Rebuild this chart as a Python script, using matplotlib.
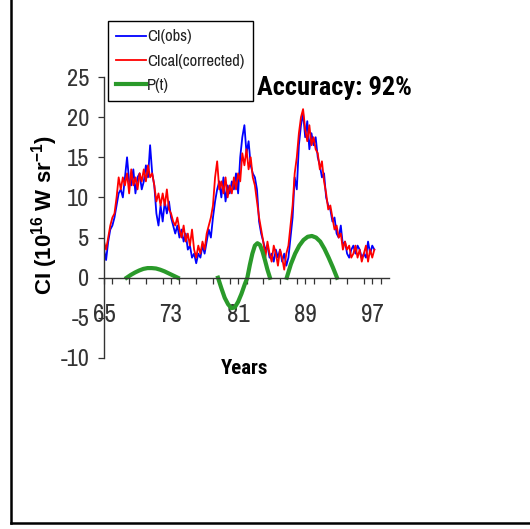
import numpy as np
import matplotlib
matplotlib.use("Agg")
import matplotlib.pyplot as plt
from matplotlib.lines import Line2D
from matplotlib.ticker import MultipleLocator, FixedLocator

plt.rcParams['axes.unicode_minus'] = False
plt.rcParams['mathtext.fontset'] = 'custom'
plt.rcParams['mathtext.rm'] = 'Liberation Sans:bold'
plt.rcParams['mathtext.it'] = 'Liberation Sans:bold'
NARROW = ['Archivo Narrow', 'DejaVu Sans']
NARROW_BOLD = ['Roboto Condensed', 'Barlow Semi Condensed', 'DejaVu Sans']

# quarterly samples, 1965.0 .. 1997.25 (years given as two digits)
ci_obs = [
    3.5, 2.2, 4.5, 6.0,   6.5, 7.5, 9.0, 10.5,   11.0, 10.0, 12.5, 15.0,
    12.0, 11.5, 13.5, 10.5,   12.5, 13.0, 11.0, 12.0,   14.0, 12.5, 16.5, 13.0,
    11.5, 8.0, 6.5, 9.0,   7.0, 9.5, 8.0, 9.5,   7.5, 6.5, 5.5, 6.5,
    5.0, 6.0, 4.5, 5.5,   3.5, 4.0, 2.5, 3.0,   1.8, 3.0, 2.5, 4.0,
    3.0, 4.5, 6.0, 5.0,   7.5, 9.5, 11.0, 12.0,   10.0, 12.5, 9.5, 11.5,
    10.5, 12.0, 11.0, 13.0,   10.5, 15.0, 17.5, 19.0,   15.5, 17.0, 14.0, 13.0,
    12.5, 11.0, 7.0, 5.5,   4.5, 3.5, 4.0, 2.5,   3.0, 2.0, 3.5, 2.5,
    3.5, 2.0, 3.0, 1.5,   2.5, 5.0, 7.5, 12.5,   11.0, 16.5, 19.0, 20.5,
    17.5, 19.5, 16.0, 18.0,   16.5, 17.5, 15.0, 14.0,   12.5, 13.0, 10.0, 9.0,
    8.5, 7.0, 7.5, 5.5,   5.0, 6.5, 4.0, 4.5,   3.0, 2.5, 3.5, 4.0,
    3.0, 4.0, 3.5, 2.5,   3.0, 2.5, 4.5, 3.0,   4.0, 3.5,
]
ci_cal = [
    4.5, 3.5, 5.0, 6.5,   7.5, 8.0, 10.0, 12.5,   11.0, 12.5, 11.5, 13.0,
    10.5, 13.5, 11.5, 12.5,   11.0, 13.0, 12.0, 13.5,   12.0, 14.0, 12.5, 13.0,
    11.5, 9.5, 10.5, 9.0,   10.5, 9.0, 11.0, 8.5,   8.0, 7.0, 6.5, 7.5,
    6.0, 5.0, 6.5, 4.5,   5.5, 4.0, 6.0, 3.5,   2.5, 4.0, 3.0, 4.5,
    3.5, 5.5, 6.5, 7.5,   9.0, 12.5, 14.5, 11.0,   12.0, 10.5, 12.5, 10.0,
    11.5, 10.5, 12.5, 11.0,   13.0, 12.0, 15.5, 14.0,   16.0, 13.5, 15.0, 12.5,
    11.5, 9.5, 7.5, 6.0,   4.5, 2.5, 4.5, 3.0,   2.0, 4.0, 3.0, 1.5,
    3.5, 2.5, 1.0, 3.0,   4.0, 6.5, 9.0, 13.0,   15.0, 18.0, 20.0, 21.0,
    18.5, 17.0, 19.0, 16.5,   17.5, 16.0, 15.5, 13.5,   14.5, 12.0, 10.5, 8.5,
    9.0, 7.5, 6.0, 6.5,   5.0, 5.5, 3.5, 4.5,   3.5, 4.0, 2.5, 3.0,
    4.0, 2.5, 3.5, 2.0,   3.0, 4.0, 2.0, 3.5,   2.5, 3.5,
]
years = 65 + 0.25 * np.arange(len(ci_obs))

# P(t) arcs, NaN breaks the line between them
p_years = [67.7, 68.2, 68.7, 69.2, 69.7, 70.2, 70.7, 71.2, 71.7, 72.2, 72.7, 73.2, 73.8,
           np.nan,
           78.6, 79.0, 79.4, 79.8, 80.2, 80.6, 81.0, 81.4, 81.8, 82.1,
           82.4, 82.7, 83.0, 83.3, 83.6, 83.9, 84.2, 84.5, 84.8,
           np.nan,
           86.8, 87.3, 87.8, 88.3, 88.8, 89.3, 89.8, 90.3, 90.8, 91.3, 91.8, 92.3, 92.8]
p_vals = [0.0, 0.35, 0.65, 0.9, 1.1, 1.2, 1.2, 1.15, 1.0, 0.8, 0.55, 0.3, 0.0,
          np.nan,
          0.0, -1.3, -2.5, -3.3, -3.8, -3.7, -3.0, -2.0, -0.8, 0.0,
          1.6, 3.0, 4.0, 4.3, 4.1, 3.3, 2.2, 1.0, 0.0,
          np.nan,
          0.0, 1.7, 3.0, 4.0, 4.7, 5.1, 5.2, 5.0, 4.5, 3.6, 2.5, 1.3, 0.0]

year_labels = [65, 73, 81, 89, 97]

fig = plt.figure(figsize=(5.30, 5.29), dpi=100)
W, H = 530, 529
ax = fig.add_axes([104 / W, 1 - 358 / H, (389 - 104) / W, (358 - 77) / H])

ax.plot(years, ci_obs, color='#0000ff', lw=1.3, label='CI(obs)')
ax.plot(years, ci_cal, color='#ff0000', lw=1.3, label='CIcal(corrected)')
ax.plot(p_years, p_vals, color='#2a9a2a', lw=3, label='P(t)')

ax.set_xlim(65, 99)
ax.set_ylim(-10, 25)
for s in ['top', 'right']:
    ax.spines[s].set_visible(False)
ax.spines['bottom'].set_position(('data', 0))
for s in ['bottom', 'left']:
    ax.spines[s].set_color('#333333')
    ax.spines[s].set_linewidth(1.0)

ax.xaxis.set_major_locator(FixedLocator(year_labels))
ax.xaxis.set_minor_locator(MultipleLocator(2))
ax.set_xticklabels([str(y) for y in year_labels])
ax.tick_params(axis='x', which='both', direction='out', length=4.5, width=0.9,
               color='#333333', pad=14, labelsize=18, labelcolor='#333333')
ax.yaxis.set_major_locator(MultipleLocator(5))
ax.tick_params(axis='y', direction='out', length=4.5, width=0.9, color='#333333',
               pad=6, labelsize=17.5, labelcolor='#333333')
for lab in ax.get_xticklabels() + ax.get_yticklabels():
    lab.set_family(NARROW)

fig.text(45 / W, 1 - 215 / H, r'CI (10$^{16}$ W sr$^{-1}$)', rotation=90,
         ha='center', va='center', fontsize=16, fontweight='bold',
         family=['Liberation Sans', 'DejaVu Sans'])
fig.text(245 / W, 1 - 368 / H, 'Years', ha='center', va='center',
         fontsize=15, fontweight='bold', family=NARROW_BOLD)
fig.text(334 / W, 1 - 88 / H, 'Accuracy: 92%', ha='center', va='center',
         fontsize=19, fontweight='bold', family=NARROW_BOLD)

leg = fig.legend(loc='upper left', bbox_to_anchor=(108 / W, 1 - 21 / H),
                 frameon=True, fancybox=False, edgecolor='black', framealpha=1,
                 prop={'family': NARROW, 'size': 12}, handlelength=1.75,
                 handletextpad=0.1, labelspacing=0.55, borderpad=0.5,
                 borderaxespad=0)
leg.get_frame().set_linewidth(1.0)
for t in leg.get_texts():
    t.set_color('#222222')

# outer frame: left and bottom edges
fig.add_artist(Line2D([11 / W, 11 / W], [1 - 523 / H, 1.0], color='black', lw=1.8,
                      transform=fig.transFigure))
fig.add_artist(Line2D([11 / W, 1.0], [1 - 523 / H, 1 - 523 / H], color='black', lw=1.8,
                      transform=fig.transFigure))

fig.savefig('out.png', dpi=100)
